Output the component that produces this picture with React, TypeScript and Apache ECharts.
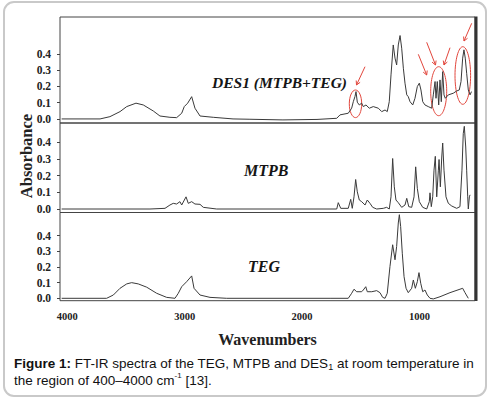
import React, { useEffect, useRef } from "react";
import * as echarts from "echarts";

// [wavenumber (cm-1), absorbance]
const desPoints: number[][] = [
  [4047, 0], [3720, 0], [3636, 0.014], [3550, 0.045], [3493, 0.076], [3414, 0.097], [3352, 0.086], [3267, 0.049],
  [3210, 0.018], [3125, 0.010], [3068, 0.008], [3025, 0.035], [3003, 0.076], [2974, 0.097], [2940, 0.137],
  [2912, 0.066], [2869, 0.018], [2756, 0.010], [2588, 0], [2444, -0.002], [2163, -0.006], [1873, -0.003],
  [1705, 0.004], [1677, 0.025], [1607, 0.035], [1578, 0.066], [1564, 0.106], [1550, 0.137], [1541, 0.168],
  [1530, 0.103], [1513, 0.086], [1493, 0.097], [1479, 0.076], [1456, 0.086], [1428, 0.066], [1394, 0.076],
  [1351, 0.066], [1322, 0.045], [1294, 0.055], [1275, 0.045], [1258, 0.106], [1243, 0.271], [1224, 0.455],
  [1209, 0.374], [1195, 0.332], [1181, 0.455], [1166, 0.513], [1152, 0.435], [1138, 0.312], [1124, 0.220],
  [1109, 0.148], [1096, 0.137], [1081, 0.106], [1058, 0.086], [1039, 0.127], [1019, 0.199], [1002, 0.220],
  [988, 0.178], [973, 0.106], [954, 0.086], [926, 0.076], [897, 0.066], [883, 0.148], [868, 0.230], [860, 0.127],
  [849, 0.230], [837, 0.086], [826, 0.240], [815, 0.106], [803, 0.291], [792, 0.148], [781, 0.127], [755, 0.148],
  [713, 0.158], [684, 0.172], [662, 0.178], [647, 0.230], [633, 0.374], [622, 0.425], [611, 0.374], [599, 0.281],
  [585, 0.178], [570, 0.148], [558, 0.168],
];

const mtpbPoints: number[][] = [
  [4047, 0], [3295, 0], [3167, 0.004], [3125, 0.024], [3097, 0.034], [3068, 0.030], [3040, 0.044], [3025, 0.024],
  [2988, 0.073], [2969, 0.034], [2940, 0.044], [2912, 0.030], [2869, 0.028], [2841, 0.010], [2727, 0], [1705, 0],
  [1692, 0.038], [1671, 0.004], [1607, 0.004], [1586, 0.058], [1573, 0.004], [1558, 0.073], [1544, 0.177],
  [1530, 0.103], [1513, 0.054], [1493, 0.044], [1464, 0.024], [1445, 0.054], [1422, 0.034], [1399, 0.010],
  [1365, 0], [1309, 0.004], [1280, 0.010], [1258, 0], [1243, 0.073], [1229, 0.303], [1215, 0.133], [1201, 0.054],
  [1181, 0.038], [1152, 0.010], [1124, 0.024], [1109, 0.064], [1092, 0.014], [1067, 0.010], [1047, 0.073],
  [1033, 0.253], [1019, 0.124], [1002, 0.044], [973, 0.010], [939, 0], [917, 0.044], [911, 0.097], [900, 0.014],
  [888, 0.073], [877, 0.233], [866, 0.316], [854, 0.073], [840, 0.233], [834, 0.297], [823, 0.133], [811, 0.312],
  [803, 0.396], [792, 0.233], [775, 0.073], [755, 0.034], [726, 0.018], [684, 0.004], [656, 0.014], [639, 0.233],
  [628, 0.452], [619, 0.496], [607, 0.372], [599, 0.233], [590, 0.073], [585, 0], [576, 0.073], [570, 0.085],
];

const tegPoints: number[][] = [
  [4047, 0], [3664, 0], [3607, 0.021], [3550, 0.064], [3493, 0.092], [3451, 0.100], [3395, 0.092], [3323, 0.071],
  [3238, 0.032], [3153, 0.006], [3082, 0], [3054, 0.032], [3025, 0.074], [2983, 0.106], [2940, 0.143],
  [2920, 0.064], [2869, 0.021], [2784, 0.006], [2642, 0], [1762, 0], [1607, 0], [1578, 0.032], [1558, 0.058],
  [1535, 0.042], [1493, 0.042], [1479, 0.053], [1458, 0.074], [1445, 0.042], [1407, 0.042], [1365, 0.049],
  [1337, 0.036], [1314, 0.006], [1294, 0], [1275, 0.032], [1252, 0.203], [1229, 0.342], [1209, 0.246],
  [1195, 0.331], [1181, 0.481], [1172, 0.534], [1161, 0.459], [1147, 0.288], [1132, 0.138], [1115, 0.064],
  [1096, 0.036], [1067, 0.064], [1053, 0.117], [1036, 0.064], [1019, 0.106], [1005, 0.164], [990, 0.096],
  [973, 0.042], [954, 0.053], [934, 0.021], [911, 0], [883, -0.004], [826, 0.010], [741, 0.036], [656, 0.058],
  [633, 0.064], [613, 0.036], [585, 0],
];

const panelLabels = ["DES1 (MTPB+TEG)", "MTPB", "TEG"];
const xTickValues = [1000, 2000, 3000, 4000];
const yTickValues = [0, 0.1, 0.2, 0.3, 0.4];
const yRanges = [
  [-0.025, 0.627],
  [-0.021, 0.516],
  [-0.0153, 0.548],
];

const SERIF = '"Liberation Serif", "Times New Roman", serif';
const SANS = '"Liberation Sans", Arial, sans-serif';
const RED = "#e2463c";

function arrow(x1: number, y1: number, x2: number, y2: number) {
  const a = Math.atan2(y2 - y1, x2 - x1);
  const L = 4.5;
  const s = 0.5;
  const p1 = [x2 - L * Math.cos(a - s), y2 - L * Math.sin(a - s)];
  const p2 = [x2 - L * Math.cos(a + s), y2 - L * Math.sin(a + s)];
  return [
    { type: "line", shape: { x1, y1, x2, y2 }, style: { stroke: RED, lineWidth: 1 } },
    { type: "polyline", shape: { points: [p1, [x2, y2], p2] }, style: { stroke: RED, lineWidth: 1, fill: null } },
  ];
}

export default function App() {
  const ref = useRef<HTMLDivElement>(null);
  useEffect(() => {
    if (!ref.current) return;
    const chart = echarts.init(ref.current, null, { renderer: "svg" });
    const grids = [
      { left: 60, top: 17, width: 415, height: 106 },
      { left: 60, top: 123, width: 415, height: 89.5 },
      { left: 60, top: 212.5, width: 415, height: 88.2 },
    ].map((g) => ({ ...g, show: true, borderColor: "#444", borderWidth: 1, containLabel: false }));

    const xAxes = [0, 1, 2].map((i) => ({
      type: "value",
      gridIndex: i,
      min: 528,
      max: 4061,
      inverse: true,
      axisLine: { show: false },
      axisTick: { show: false },
      splitLine: { show: false },
      axisLabel: {
        show: i === 2,
        customValues: xTickValues,
        formatter: (v: number) => String(v),
        margin: 10,
        fontFamily: SERIF,
        fontWeight: "bold",
        fontSize: 10.5,
        color: "#222",
      },
      ...(i === 2
        ? {
            name: "Wavenumbers",
            nameLocation: "middle",
            nameGap: 31,
            nameTextStyle: { fontFamily: SERIF, fontWeight: "bold", fontSize: 16, color: "#222" },
          }
        : {}),
    }));

    const yAxes = [0, 1, 2].map((i) => ({
      type: "value",
      gridIndex: i,
      min: yRanges[i][0],
      max: yRanges[i][1],
      axisLine: { show: false },
      splitLine: { show: false },
      axisTick: { show: true, customValues: yTickValues, length: 3, lineStyle: { color: "#444" } },
      axisLabel: {
        customValues: yTickValues,
        formatter: (v: number) => v.toFixed(1),
        margin: 9,
        fontFamily: SERIF,
        fontWeight: "bold",
        fontSize: 11.5,
        color: "#222",
      },
    }));

    const seriesData = [desPoints, mtpbPoints, tegPoints];
    const series = seriesData.map((d, i) => ({
      type: "line",
      xAxisIndex: i,
      yAxisIndex: i,
      data: d,
      showSymbol: false,
      silent: true,
      lineStyle: { color: "#3a3a3a", width: 1 },
    }));

    const labelPos = [
      [212, 82, 15.5],
      [244, 170, 16],
      [248, 266.7, 16],
    ];

    const graphic: any[] = [
      {
        type: "rect",
        shape: { x: 4, y: 2, width: 482, height: 394, r: 10 },
        style: { fill: null, stroke: "#c9c9c9", lineWidth: 2 },
        z: -1,
      },
      { type: "line", shape: { x1: 476, y1: 16.5, x2: 476, y2: 301 }, style: { stroke: "#333", lineWidth: 3 } },
      ...panelLabels.map((t, i) => ({
        type: "text",
        x: labelPos[i][0],
        y: labelPos[i][1],
        style: {
          text: t,
          fontFamily: SERIF,
          fontWeight: "bold",
          fontStyle: "italic",
          fontSize: labelPos[i][2],
          fill: "#151515",
          verticalAlign: "middle",
        },
      })),
      {
        type: "text",
        x: 26,
        y: 156,
        rotation: Math.PI / 2,
        style: {
          text: "Absorbance",
          fontFamily: SERIF,
          fontWeight: "bold",
          fontSize: 16.5,
          fill: "#222",
          align: "center",
          verticalAlign: "middle",
        },
      },
      {
        type: "text",
        x: 14,
        y: 354.5,
        style: {
          text:
            "{b|Figure 1:} FT-IR spectra of the TEG, MTPB and DES{sub|1} at room temperature in\nthe region of 400–4000 cm{sup|-1} [13].",
          fontFamily: SANS,
          fontSize: 13.5,
          lineHeight: 17,
          fill: "#111",
          rich: {
            b: { fontFamily: SANS, fontSize: 13.5, fontWeight: "bold", lineHeight: 17, fill: "#111" },
            sub: { fontFamily: SANS, fontSize: 9, lineHeight: 17, verticalAlign: "bottom", fill: "#111" },
            sup: { fontFamily: SANS, fontSize: 8, lineHeight: 17, verticalAlign: "top", fill: "#111" },
          },
        },
      },
      // red annotations
      { type: "ellipse", shape: { cx: 355.5, cy: 103.8, rx: 6.2, ry: 13.8 }, style: { fill: null, stroke: RED, lineWidth: 1 } },
      { type: "ellipse", shape: { cx: 438.7, cy: 91.2, rx: 8, ry: 24.5 }, style: { fill: null, stroke: RED, lineWidth: 1 } },
      { type: "ellipse", shape: { cx: 462.8, cy: 75.5, rx: 7.8, ry: 28.8 }, style: { fill: null, stroke: RED, lineWidth: 1 } },
      ...arrow(365, 66.7, 356.5, 85),
      ...arrow(418.3, 54.3, 426.7, 75),
      ...arrow(426.7, 42.3, 435.5, 65),
      ...arrow(450, 47.7, 444, 65),
      ...arrow(471.7, 23.3, 464, 41),
    ];

    chart.setOption({
      animation: false,
      backgroundColor: "#fff",
      grid: grids,
      xAxis: xAxes,
      yAxis: yAxes,
      series,
      graphic,
    } as any);
    return () => chart.dispose();
  }, []);
  return (
    <div
      ref={ref}
      style={{ position: "absolute", left: 0, top: 0, width: 496, height: 399, background: "#fff" }}
    />
  );
}
